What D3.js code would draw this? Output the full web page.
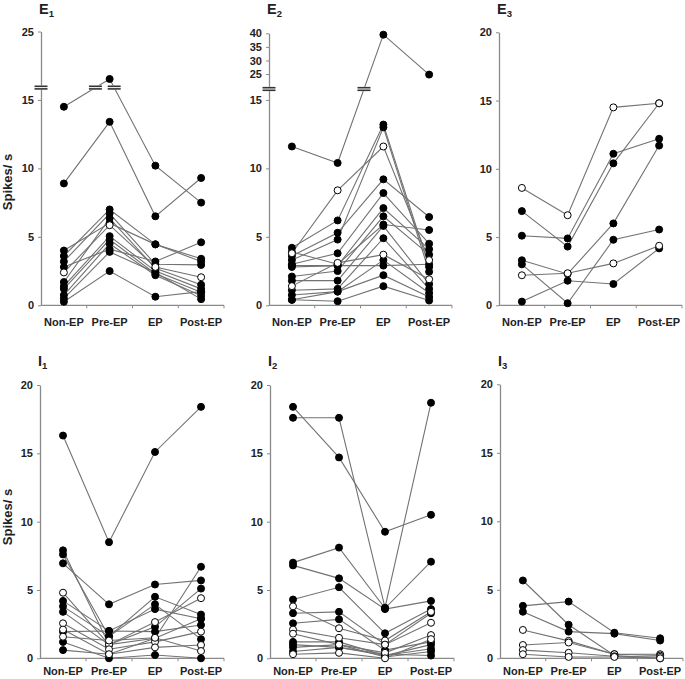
<!DOCTYPE html>
<html><head><meta charset="utf-8">
<script src="https://cdn.jsdelivr.net/npm/d3@7"></script>
<style>body{margin:0;background:#fff}svg{display:block}text{font-family:Arial,"Liberation Sans",sans-serif}</style>
</head><body><svg id="c" width="685" height="679"></svg>
<script>
const categories = ["Non-EP", "Pre-EP", "EP", "Post-EP"];

// ---- data: each row = one unit [Non-EP, Pre-EP, EP, Post-EP] ----
const e1Filled = [
  [14.5, 17.3, 10.2, 7.5],
  [8.9, 13.4, 6.5, 9.3],
  [4.0, 6.0, 4.45, 3.4],
  [3.6, 7.0, 4.45, 3.2],
  [2.8, 4.1, 3.2, 4.6],
  [3.2, 6.7, 3.0, 2.95],
  [1.7, 6.35, 2.7, 1.5],
  [1.4, 5.05, 2.5, 1.2],
  [1.2, 4.8, 2.3, 0.95],
  [0.75, 4.5, 2.2, 0.7],
  [0.5, 3.9, 2.4, 0.45],
  [0.26, 2.5, 0.63, 1.0]
];
const e1Open = [[2.4, 5.85, 2.8, 2.05]];

const e2Filled = [
  [11.6, 10.4, 39.5, 24.8],
  [4.2, 6.2, 13.2, 2.8],
  [3.3, 4.8, 13.0, 2.45],
  [3.6, 5.3, 9.2, 6.45],
  [3.0, 3.8, 8.2, 4.5],
  [2.8, 2.9, 7.1, 4.1],
  [2.1, 2.5, 6.5, 3.7],
  [3.9, 3.0, 5.9, 5.5],
  [1.8, 1.8, 5.8, 1.55],
  [1.1, 1.2, 4.9, 1.2],
  [0.75, 1.0, 3.3, 0.9],
  [2.9, 2.9, 2.9, 3.0],
  [0.4, 1.0, 2.2, 0.6],
  [0.4, 0.3, 1.4, 0.35]
];
const e2Open = [
  [3.8, 8.4, 11.6, 3.3],
  [1.4, 3.1, 3.7, 1.9]
];

const e3Filled = [
  [6.9, 4.3, 10.4, 14.8],
  [5.1, 4.9, 11.1, 12.2],
  [3.3, 2.3, 6.0, 11.7],
  [3.0, 0.15, 4.8, 5.55],
  [0.27, 1.8, 1.56, 4.17]
];
const e3Open = [
  [8.6, 6.6, 14.5, 14.8],
  [2.2, 2.35, 3.07, 4.36]
];

const i1Filled = [
  [16.3, 8.5, 15.1, 18.4],
  [6.95, 3.95, 5.4, 5.7],
  [7.9, 1.0, 1.46, 6.7],
  [7.6, 1.6, 4.5, 3.2],
  [4.2, 2.0, 3.6, 2.9],
  [3.8, 1.6, 3.95, 1.4],
  [3.4, 1.0, 2.3, 5.1],
  [1.95, 2.0, 1.95, 2.44],
  [1.2, 0.0, 0.24, 0.0],
  [0.6, 0.3, 1.46, 2.9]
];
const i1Open = [
  [4.8, 1.0, 2.65, 4.4],
  [2.56, 0.66, 1.2, 1.95],
  [2.1, 0.3, 0.8, 0.97],
  [1.58, 1.3, 1.5, 0.53]
];

const i2Filled = [
  [18.4, 14.7, 9.26, 10.5],
  [17.6, 17.6, 3.7, 18.7],
  [7.0, 8.1, 3.66, 7.07],
  [6.8, 5.85, 3.6, 4.2],
  [4.3, 5.2, 1.83, 3.6],
  [3.3, 3.4, 1.0, 3.3],
  [2.56, 2.85, 0.6, 1.2],
  [1.2, 1.2, 0.2, 1.0],
  [1.0, 0.8, 0.2, 0.7],
  [0.8, 1.0, 0.1, 0.5],
  [0.5, 0.8, 0.3, 0.2]
];
const i2Open = [
  [3.8, 2.2, 1.3, 3.4],
  [2.1, 1.5, 1.0, 2.6],
  [1.8, 1.0, 0.4, 1.7],
  [0.3, 0.4, 0.0, 1.4]
];

const i3Filled = [
  [3.83, 4.14, 1.87, 1.46],
  [5.68, 2.45, 0.2, 0.0],
  [3.4, 1.95, 1.8, 1.3]
];
const i3Open = [
  [2.07, 1.27, 0.3, 0.3],
  [0.97, 1.15, 0.3, 0.2],
  [0.6, 0.4, 0.15, 0.1],
  [0.3, 0.1, 0.1, 0.0]
];

const e1Ticks = [0, 5, 10, 15, 25];
const e2Ticks = [0, 5, 10, 15, 25, 30, 35, 40];
const stdTicks = [0, 5, 10, 15, 20];

// ---- layout ----
const panels = [
  {t:"E", s:"1", ax:41, bandW:183, yDom:[0,15.9,25], yRng:[305.3,87.6,31.5], ticks:e1Ticks, brk:15.9, filled:e1Filled, open:e1Open, ylab:182, titleY:14, labOff:21},
  {t:"E", s:"2", ax:269, bandW:183, yDom:[0,15.8,19.5,40], yRng:[305.3,89,89,33.3], ticks:e2Ticks, brk:15.8, filled:e2Filled, open:e2Open, titleY:14, labOff:21},
  {t:"E", s:"3", ax:499, bandW:183, yDom:[0,20], yRng:[305.3,32.3], ticks:stdTicks, filled:e3Filled, open:e3Open, titleY:14, labOff:21},
  {t:"I", s:"1", ax:40, bandW:184, yDom:[0,20], yRng:[658.3,385], ticks:stdTicks, filled:i1Filled, open:i1Open, ylab:517, titleY:366, labOff:17},
  {t:"I", s:"2", ax:270, bandW:184, yDom:[0,20], yRng:[658.3,385], ticks:stdTicks, filled:i2Filled, open:i2Open, titleY:366, labOff:17},
  {t:"I", s:"3", ax:500, bandW:183, yDom:[0,20], yRng:[658.3,384.3], ticks:stdTicks, filled:i3Filled, open:i3Open, titleY:366, labOff:17}
];

const svg = d3.select("#c");
const AX = "#8a8a8a", LN = "#727272", TX = "#222";

function breakMark(g, cx, cy, w) {
  g.append("rect").attr("x", cx - w/2).attr("y", cy - 2.2).attr("width", w).attr("height", 4.4).attr("fill", "#fff");
  [-1.3, 1.3].forEach(d => g.append("line")
    .attr("x1", cx - w/2).attr("x2", cx + w/2).attr("y1", cy + d).attr("y2", cy + d)
    .attr("stroke", "#333").attr("stroke-width", 1.6));
}

panels.forEach(p => {
  const g = svg.append("g");
  const x = d3.scaleBand().domain(categories).range([p.ax, p.ax + p.bandW]).padding(0);
  const cx = c => x(c) + x.bandwidth() / 2;
  const y = d3.scaleLinear().domain(p.yDom).range(p.yRng);
  const y0 = y(0);

  // y axis
  const ya = g.append("g").attr("transform", `translate(${p.ax},0)`)
    .call(d3.axisLeft(y).tickValues(p.ticks).tickSize(3).tickSizeOuter(0).tickPadding(4).tickFormat(d3.format("d")));
  ya.select(".domain").attr("stroke", AX).attr("stroke-width", 1.3);
  ya.selectAll(".tick line").attr("stroke", AX);
  ya.selectAll(".tick text").attr("fill", TX).attr("font-size", 11).attr("font-weight", "bold")
    .attr("font-family", "Arial, 'Liberation Sans', sans-serif");

  // x axis
  g.append("line").attr("x1", p.ax).attr("x2", p.ax + p.bandW).attr("y1", y0).attr("y2", y0)
    .attr("stroke", AX).attr("stroke-width", 1.3);
  categories.forEach((c, i) => {
    if (i > 0) g.append("line").attr("x1", x(c)).attr("x2", x(c)).attr("y1", y0).attr("y2", y0 + 3).attr("stroke", AX);
  });
  g.append("line").attr("x1", p.ax + p.bandW).attr("x2", p.ax + p.bandW).attr("y1", y0).attr("y2", y0 + 3).attr("stroke", AX);
  categories.forEach(c => g.append("text").attr("x", cx(c)).attr("y", y0 + p.labOff)
    .attr("text-anchor", "middle").attr("font-size", 11).attr("font-weight", "bold").attr("fill", TX).text(c));

  // title
  const tt = g.append("text").attr("x", p.ax - 2).attr("y", p.titleY).attr("font-size", 14.5)
    .attr("font-weight", "bold").attr("fill", TX);
  tt.append("tspan").text(p.t);
  tt.append("tspan").attr("font-size", 9.5).attr("dy", 3).text(p.s);

  if (p.ylab) {
    g.append("text").attr("transform", `translate(12,${p.ylab}) rotate(-90)`).attr("text-anchor", "middle")
      .attr("font-size", 13).attr("font-weight", "bold").attr("fill", TX).text("Spikes/ s");
  }

  // lines
  const line = d3.line().x((d, i) => cx(categories[i])).y(d => y(d));
  const all = p.filled.map(v => ({v, open:false})).concat(p.open.map(v => ({v, open:true})));
  all.forEach(s => g.append("path").attr("d", line(s.v)).attr("fill", "none")
    .attr("stroke", LN).attr("stroke-width", 1.1));

  // breaks
  if (p.brk !== undefined) {
    const yb = y(p.brk);
    breakMark(g, p.ax, yb, 13);
    all.forEach(s => {
      for (let i = 0; i < 3; i++) {
        const ya1 = y(s.v[i]), ya2 = y(s.v[i + 1]);
        if ((ya1 - yb) * (ya2 - yb) < 0) {
          const x1 = cx(categories[i]), x2 = cx(categories[i + 1]);
          const xb = x1 + (x2 - x1) * (ya1 - yb) / (ya1 - ya2);
          breakMark(g, xb, yb, 13);
        }
      }
    });
  }

  // dots
  all.forEach(s => {
    s.v.forEach((d, i) => g.append("circle").attr("cx", cx(categories[i])).attr("cy", y(d)).attr("r", 3.5)
      .attr("fill", s.open ? "#fff" : "#000").attr("stroke", "#000").attr("stroke-width", 1));
  });
});
</script>
</body></html>
